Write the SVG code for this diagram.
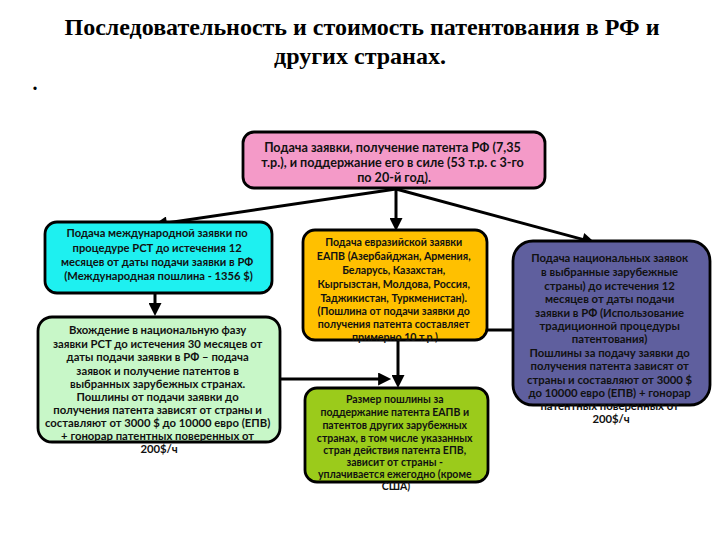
<svg xmlns="http://www.w3.org/2000/svg" width="720" height="540" viewBox="0 0 720 540">
<style>
.title{font-family:"Liberation Serif","Times New Roman",serif;font-weight:bold;font-size:24px;fill:#000;text-anchor:middle}
.t{font-family:Lato,"Liberation Sans",sans-serif;font-weight:bold;fill:#111;text-anchor:middle}
.box{stroke:#000;stroke-width:2.8}
.con{fill:none;stroke:#000;stroke-width:3}
</style>
<defs>
<marker id="ah" viewBox="0 0 10 10" refX="3" refY="5" markerWidth="14" markerHeight="13" markerUnits="userSpaceOnUse" orient="auto">
<path d="M0,0 L10,5 L0,10 z" fill="#000"/>
</marker>
</defs>
<rect width="720" height="540" fill="#fff"/>
<text class="title" x="362" y="35" textLength="595" lengthAdjust="spacingAndGlyphs">Последовательность и стоимость патентования в РФ и</text>
<text class="title" x="360" y="64" textLength="172" lengthAdjust="spacingAndGlyphs">других странах.</text>
<text class="title" x="35" y="90" style="font-size:20px">.</text>

<g id="connectors">
<line class="con" x1="396" y1="189" x2="163" y2="223.5" marker-end="url(#ah)"/>
<line class="con" x1="396" y1="189" x2="396" y2="222" marker-end="url(#ah)"/>
<line class="con" x1="396" y1="189" x2="586.3" y2="240.4" marker-end="url(#ah)"/>
<line class="con" x1="155" y1="293" x2="155" y2="307" marker-end="url(#ah)"/>
<line class="con" x1="398" y1="340" x2="398" y2="379" marker-end="url(#ah)"/>
<line class="con" x1="280" y1="379" x2="382" y2="379" marker-end="url(#ah)"/>
<polyline class="con" points="514,330 398,330"/>
</g>

<g id="node-pink">
<rect class="box" x="243" y="132" width="302" height="56" rx="11" fill="#F49AC8"/>
<text class="t" style="font-size:12.6px">
<tspan x="394" y="152">Подача заявки, получение патента РФ (7,35</tspan>
<tspan x="394" y="167">т.р.), и поддержание его в силе (53 т.р. с 3-го</tspan>
<tspan x="394" y="182">по 20-й год).</tspan>
</text>
</g>

<g id="node-cyan">
<rect class="box" x="45" y="222" width="227" height="71" rx="12" fill="#1EF0F0"/>
<text class="t" style="font-size:11.2px">
<tspan x="158.5" y="237">Подача международной заявки  по</tspan>
<tspan x="158.5" y="252">процедуре РСТ до истечения 12</tspan>
<tspan x="158.5" y="266">месяцев от даты подачи заявки в РФ</tspan>
<tspan x="158.5" y="280">(Международная пошлина - 1356 $)</tspan>
</text>
</g>

<g id="node-yellow">
<rect class="box" x="303" y="230" width="184" height="110" rx="12" fill="#FFC000"/>
<text class="t" style="font-size:10.6px">
<tspan x="395" y="246">Подача евразийской заявки</tspan>
<tspan x="395" y="260">ЕАПВ (Азербайджан, Армения,</tspan>
<tspan x="395" y="274">Беларусь, Казахстан,</tspan>
<tspan x="395" y="288">Кыргызстан, Молдова, Россия,</tspan>
<tspan x="395" y="302">Таджикистан, Туркменистан).</tspan>
<tspan x="395" y="315">(Пошлина от подачи заявки  до</tspan>
<tspan x="395" y="328">получения патента составляет</tspan>
<tspan x="395" y="341">примерно 10 т.р.)</tspan>
</text>
</g>

<g id="node-purple">
<rect class="box" x="513" y="241" width="197" height="164" rx="20" fill="#5F5F9E"/>
<text class="t" style="font-size:11.3px">
<tspan x="611" y="262">Подача национальных заявок</tspan>
<tspan x="611" y="276">в выбранные зарубежные</tspan>
<tspan x="611" y="290">страны)  до истечения 12</tspan>
<tspan x="611" y="303">месяцев от даты подачи</tspan>
<tspan x="611" y="317">заявки в РФ (Использование</tspan>
<tspan x="611" y="330">традиционной  процедуры</tspan>
<tspan x="611" y="343">патентования)</tspan>
<tspan x="611" y="357">Пошлины за подачу  заявки до</tspan>
<tspan x="611" y="370">получения патента зависят от</tspan>
<tspan x="611" y="384">страны и составляют от 3000 $</tspan>
<tspan x="611" y="397">до 10000 евро (ЕПВ) +  гонорар</tspan>
<tspan x="611" y="410">патентных поверенных от</tspan>
<tspan x="611" y="423">200$/ч</tspan>
</text>
</g>

<g id="node-lightgreen">
<rect class="box" x="38" y="317" width="242" height="125" rx="14" fill="#C8F7C8"/>
<text class="t" style="font-size:11.3px">
<tspan x="159" y="334">Вхождение  в национальную фазу</tspan>
<tspan x="159" y="348">заявки PCT до истечения 30 месяцев от</tspan>
<tspan x="159" y="361">даты подачи заявки в РФ  – подача</tspan>
<tspan x="159" y="375">заявок и получение патентов в</tspan>
<tspan x="159" y="388">выбранных зарубежных  странах.</tspan>
<tspan x="159" y="401">Пошлины от  подачи заявки до</tspan>
<tspan x="159" y="414">получения патента  зависят от страны и</tspan>
<tspan x="159" y="427">составляют  от 3000 $ до 10000 евро (ЕПВ)</tspan>
<tspan x="159" y="440">+  гонорар патентных поверенных от</tspan>
<tspan x="159" y="453">200$/ч</tspan>
</text>
</g>

<g id="node-green">
<rect class="box" x="305" y="388" width="183" height="94" rx="12" fill="#9BCB1B"/>
<text class="t" style="font-size:10.5px">
<tspan x="396" y="403">Размер пошлины за</tspan>
<tspan x="396" y="416">поддержание патента ЕАПВ  и</tspan>
<tspan x="396" y="429">патентов других зарубежных</tspan>
<tspan x="396" y="442">странах, в том числе указанных</tspan>
<tspan x="396" y="454">стран действия патента ЕПВ,</tspan>
<tspan x="396" y="466">зависит от  страны -</tspan>
<tspan x="396" y="478">уплачивается ежегодно (кроме</tspan>
<tspan x="396" y="490">США)</tspan>
</text>
</g>
</svg>
